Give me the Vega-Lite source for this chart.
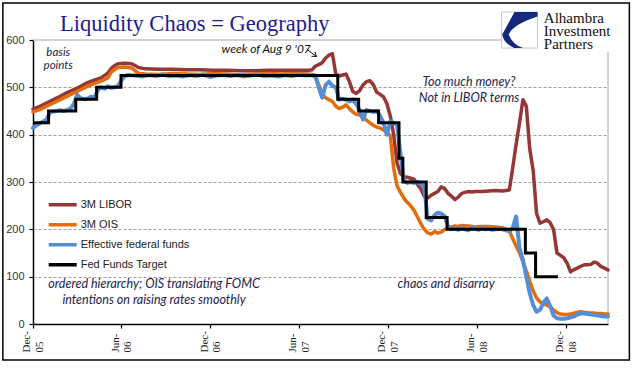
{
  "$schema": "https://vega.github.io/schema/vega-lite/v6.json",
  "width": 575,
  "height": 284,
  "autosize": "none",
  "padding": {"left": 33, "top": 40, "right": 33, "bottom": 51},
  "background": "white",
  "config": {"view": {"stroke": null}, "font": "Liberation Sans"},
  "title": {
    "text": "Liquidity Chaos = Geography",
    "anchor": "start",
    "frame": "group",
    "dx": 27,
    "dy": 51,
    "offset": 0,
    "baseline": "alphabetic",
    "font": "Liberation Serif",
    "fontSize": 22.5,
    "fontWeight": "normal",
    "color": "#1c1c8c"
  },
  "datasets": {
    "L": [
      {"date": "2005-12-30", "value": 454}, {"date": "2006-01-13", "value": 460}, {"date": "2006-01-27", "value": 467},
      {"date": "2006-02-10", "value": 474}, {"date": "2006-02-24", "value": 481}, {"date": "2006-03-10", "value": 489},
      {"date": "2006-03-24", "value": 495}, {"date": "2006-04-07", "value": 502}, {"date": "2006-04-21", "value": 510},
      {"date": "2006-05-05", "value": 515}, {"date": "2006-05-19", "value": 520}, {"date": "2006-06-02", "value": 530},
      {"date": "2006-06-09", "value": 540}, {"date": "2006-06-16", "value": 546}, {"date": "2006-06-23", "value": 550},
      {"date": "2006-07-07", "value": 551}, {"date": "2006-07-21", "value": 550}, {"date": "2006-07-28", "value": 546},
      {"date": "2006-08-04", "value": 542}, {"date": "2006-08-18", "value": 539}, {"date": "2006-09-15", "value": 538},
      {"date": "2006-10-13", "value": 538}, {"date": "2006-11-10", "value": 537}, {"date": "2006-12-08", "value": 537},
      {"date": "2007-01-05", "value": 536}, {"date": "2007-02-02", "value": 536}, {"date": "2007-03-02", "value": 535},
      {"date": "2007-03-30", "value": 535}, {"date": "2007-04-27", "value": 536}, {"date": "2007-05-25", "value": 536},
      {"date": "2007-06-22", "value": 536}, {"date": "2007-07-20", "value": 536}, {"date": "2007-07-27", "value": 537},
      {"date": "2007-08-03", "value": 545}, {"date": "2007-08-10", "value": 548}, {"date": "2007-08-17", "value": 552},
      {"date": "2007-08-24", "value": 562}, {"date": "2007-08-31", "value": 568}, {"date": "2007-09-07", "value": 571},
      {"date": "2007-09-14", "value": 528}, {"date": "2007-09-21", "value": 524}, {"date": "2007-09-28", "value": 526},
      {"date": "2007-10-05", "value": 528}, {"date": "2007-10-12", "value": 512}, {"date": "2007-10-19", "value": 491},
      {"date": "2007-10-26", "value": 487}, {"date": "2007-11-02", "value": 493}, {"date": "2007-11-09", "value": 505},
      {"date": "2007-11-16", "value": 512}, {"date": "2007-11-23", "value": 514}, {"date": "2007-11-30", "value": 506},
      {"date": "2007-12-07", "value": 490}, {"date": "2007-12-14", "value": 485}, {"date": "2007-12-21", "value": 480},
      {"date": "2007-12-28", "value": 466}, {"date": "2008-01-04", "value": 440}, {"date": "2008-01-11", "value": 400},
      {"date": "2008-01-18", "value": 340}, {"date": "2008-01-25", "value": 318}, {"date": "2008-02-01", "value": 311},
      {"date": "2008-02-08", "value": 310}, {"date": "2008-02-15", "value": 308}, {"date": "2008-02-22", "value": 306},
      {"date": "2008-02-29", "value": 295}, {"date": "2008-03-07", "value": 285}, {"date": "2008-03-14", "value": 270},
      {"date": "2008-03-21", "value": 266}, {"date": "2008-03-28", "value": 272}, {"date": "2008-04-04", "value": 276},
      {"date": "2008-04-11", "value": 280}, {"date": "2008-04-18", "value": 290}, {"date": "2008-04-25", "value": 286},
      {"date": "2008-05-02", "value": 276}, {"date": "2008-05-09", "value": 270}, {"date": "2008-05-16", "value": 263},
      {"date": "2008-05-23", "value": 268}, {"date": "2008-05-30", "value": 276}, {"date": "2008-06-06", "value": 278},
      {"date": "2008-06-13", "value": 280}, {"date": "2008-06-20", "value": 279}, {"date": "2008-06-27", "value": 280},
      {"date": "2008-07-11", "value": 280}, {"date": "2008-07-25", "value": 281}, {"date": "2008-08-08", "value": 282},
      {"date": "2008-08-22", "value": 281}, {"date": "2008-09-05", "value": 283}, {"date": "2008-09-12", "value": 330},
      {"date": "2008-09-19", "value": 380}, {"date": "2008-09-26", "value": 425}, {"date": "2008-10-03", "value": 474},
      {"date": "2008-10-10", "value": 460}, {"date": "2008-10-17", "value": 370}, {"date": "2008-10-24", "value": 325},
      {"date": "2008-10-31", "value": 234}, {"date": "2008-11-07", "value": 213}, {"date": "2008-11-14", "value": 216},
      {"date": "2008-11-21", "value": 220}, {"date": "2008-11-28", "value": 214}, {"date": "2008-12-05", "value": 200},
      {"date": "2008-12-12", "value": 150}, {"date": "2008-12-19", "value": 145}, {"date": "2008-12-26", "value": 140},
      {"date": "2009-01-02", "value": 128}, {"date": "2009-01-09", "value": 110}, {"date": "2009-01-16", "value": 115},
      {"date": "2009-01-23", "value": 118}, {"date": "2009-01-30", "value": 122}, {"date": "2009-02-06", "value": 125},
      {"date": "2009-02-13", "value": 125}, {"date": "2009-02-20", "value": 126}, {"date": "2009-02-27", "value": 131},
      {"date": "2009-03-06", "value": 128}, {"date": "2009-03-13", "value": 121}, {"date": "2009-03-20", "value": 118},
      {"date": "2009-03-27", "value": 114}
    ],
    "O": [
      {"date": "2005-12-30", "value": 448}, {"date": "2006-01-13", "value": 453}, {"date": "2006-01-27", "value": 460},
      {"date": "2006-02-10", "value": 467}, {"date": "2006-02-24", "value": 474}, {"date": "2006-03-10", "value": 481},
      {"date": "2006-03-24", "value": 488}, {"date": "2006-04-07", "value": 495}, {"date": "2006-04-21", "value": 502},
      {"date": "2006-05-05", "value": 508}, {"date": "2006-05-19", "value": 513}, {"date": "2006-06-02", "value": 520},
      {"date": "2006-06-09", "value": 532}, {"date": "2006-06-16", "value": 538}, {"date": "2006-06-23", "value": 542},
      {"date": "2006-07-07", "value": 543}, {"date": "2006-07-21", "value": 541}, {"date": "2006-07-28", "value": 535},
      {"date": "2006-08-04", "value": 530}, {"date": "2006-08-18", "value": 528}, {"date": "2006-09-15", "value": 527},
      {"date": "2006-10-13", "value": 529}, {"date": "2006-11-10", "value": 528}, {"date": "2006-12-08", "value": 527},
      {"date": "2007-01-05", "value": 529}, {"date": "2007-02-02", "value": 528}, {"date": "2007-03-02", "value": 526},
      {"date": "2007-03-30", "value": 528}, {"date": "2007-04-27", "value": 529}, {"date": "2007-05-25", "value": 528},
      {"date": "2007-06-22", "value": 529}, {"date": "2007-07-20", "value": 528}, {"date": "2007-07-27", "value": 527},
      {"date": "2007-08-03", "value": 520}, {"date": "2007-08-10", "value": 505}, {"date": "2007-08-17", "value": 487},
      {"date": "2007-08-24", "value": 478}, {"date": "2007-08-31", "value": 474}, {"date": "2007-09-07", "value": 470},
      {"date": "2007-09-14", "value": 460}, {"date": "2007-09-21", "value": 455}, {"date": "2007-09-28", "value": 458},
      {"date": "2007-10-05", "value": 463}, {"date": "2007-10-12", "value": 455}, {"date": "2007-10-19", "value": 448},
      {"date": "2007-10-26", "value": 443}, {"date": "2007-11-02", "value": 442}, {"date": "2007-11-09", "value": 436},
      {"date": "2007-11-16", "value": 431}, {"date": "2007-11-23", "value": 425}, {"date": "2007-11-30", "value": 420},
      {"date": "2007-12-07", "value": 416}, {"date": "2007-12-14", "value": 414}, {"date": "2007-12-21", "value": 410},
      {"date": "2007-12-28", "value": 405}, {"date": "2008-01-04", "value": 398}, {"date": "2008-01-11", "value": 330},
      {"date": "2008-01-18", "value": 292}, {"date": "2008-01-25", "value": 278}, {"date": "2008-02-01", "value": 266},
      {"date": "2008-02-08", "value": 257}, {"date": "2008-02-15", "value": 250}, {"date": "2008-02-22", "value": 240},
      {"date": "2008-02-29", "value": 226}, {"date": "2008-03-07", "value": 212}, {"date": "2008-03-14", "value": 200},
      {"date": "2008-03-21", "value": 193}, {"date": "2008-03-28", "value": 190}, {"date": "2008-04-04", "value": 195},
      {"date": "2008-04-11", "value": 192}, {"date": "2008-04-18", "value": 194}, {"date": "2008-04-25", "value": 200},
      {"date": "2008-05-02", "value": 203}, {"date": "2008-05-09", "value": 205}, {"date": "2008-05-16", "value": 207},
      {"date": "2008-05-23", "value": 206}, {"date": "2008-05-30", "value": 208}, {"date": "2008-06-13", "value": 207},
      {"date": "2008-06-27", "value": 205}, {"date": "2008-07-11", "value": 206}, {"date": "2008-07-25", "value": 206},
      {"date": "2008-08-08", "value": 205}, {"date": "2008-08-22", "value": 203}, {"date": "2008-09-05", "value": 198},
      {"date": "2008-09-12", "value": 180}, {"date": "2008-09-19", "value": 165}, {"date": "2008-09-26", "value": 150},
      {"date": "2008-10-03", "value": 132}, {"date": "2008-10-10", "value": 112}, {"date": "2008-10-17", "value": 90},
      {"date": "2008-10-24", "value": 70}, {"date": "2008-10-31", "value": 55}, {"date": "2008-11-07", "value": 47},
      {"date": "2008-11-14", "value": 43}, {"date": "2008-11-21", "value": 40}, {"date": "2008-11-28", "value": 36},
      {"date": "2008-12-05", "value": 30}, {"date": "2008-12-12", "value": 24}, {"date": "2008-12-19", "value": 21},
      {"date": "2008-12-26", "value": 20}, {"date": "2009-01-02", "value": 20}, {"date": "2009-01-09", "value": 21},
      {"date": "2009-01-16", "value": 23}, {"date": "2009-01-23", "value": 25}, {"date": "2009-01-30", "value": 26},
      {"date": "2009-02-06", "value": 25}, {"date": "2009-02-13", "value": 24}, {"date": "2009-02-20", "value": 23},
      {"date": "2009-02-27", "value": 23}, {"date": "2009-03-06", "value": 22}, {"date": "2009-03-13", "value": 22},
      {"date": "2009-03-20", "value": 21}, {"date": "2009-03-27", "value": 21}
    ],
    "E": [
      {"date": "2005-12-30", "value": 414}, {"date": "2006-01-06", "value": 420}, {"date": "2006-01-13", "value": 424},
      {"date": "2006-01-20", "value": 428}, {"date": "2006-01-27", "value": 432}, {"date": "2006-02-03", "value": 447},
      {"date": "2006-02-10", "value": 449}, {"date": "2006-02-17", "value": 450}, {"date": "2006-02-24", "value": 452},
      {"date": "2006-03-03", "value": 450}, {"date": "2006-03-10", "value": 452}, {"date": "2006-03-17", "value": 455},
      {"date": "2006-03-24", "value": 465}, {"date": "2006-03-31", "value": 484}, {"date": "2006-04-07", "value": 477},
      {"date": "2006-04-14", "value": 475}, {"date": "2006-04-21", "value": 476}, {"date": "2006-04-28", "value": 480},
      {"date": "2006-05-05", "value": 478}, {"date": "2006-05-12", "value": 493}, {"date": "2006-05-19", "value": 500},
      {"date": "2006-05-26", "value": 497}, {"date": "2006-06-02", "value": 502}, {"date": "2006-06-09", "value": 499},
      {"date": "2006-06-16", "value": 500}, {"date": "2006-06-23", "value": 503}, {"date": "2006-06-30", "value": 515},
      {"date": "2006-07-07", "value": 524}, {"date": "2006-07-14", "value": 526}, {"date": "2006-07-28", "value": 525},
      {"date": "2006-08-11", "value": 523}, {"date": "2006-08-25", "value": 526}, {"date": "2006-09-08", "value": 524},
      {"date": "2006-09-22", "value": 527}, {"date": "2006-10-06", "value": 524}, {"date": "2006-10-20", "value": 525},
      {"date": "2006-11-03", "value": 523}, {"date": "2006-11-17", "value": 526}, {"date": "2006-12-01", "value": 524},
      {"date": "2006-12-15", "value": 527}, {"date": "2006-12-29", "value": 522}, {"date": "2007-01-12", "value": 525},
      {"date": "2007-01-26", "value": 526}, {"date": "2007-02-09", "value": 524}, {"date": "2007-02-23", "value": 526},
      {"date": "2007-03-09", "value": 523}, {"date": "2007-03-23", "value": 525}, {"date": "2007-04-06", "value": 527},
      {"date": "2007-04-20", "value": 524}, {"date": "2007-05-04", "value": 525}, {"date": "2007-05-18", "value": 523},
      {"date": "2007-06-01", "value": 526}, {"date": "2007-06-15", "value": 524}, {"date": "2007-06-29", "value": 527},
      {"date": "2007-07-13", "value": 525}, {"date": "2007-07-27", "value": 526}, {"date": "2007-08-03", "value": 525},
      {"date": "2007-08-10", "value": 500}, {"date": "2007-08-17", "value": 478}, {"date": "2007-08-24", "value": 505},
      {"date": "2007-08-31", "value": 512}, {"date": "2007-09-07", "value": 503}, {"date": "2007-09-14", "value": 500},
      {"date": "2007-09-21", "value": 474}, {"date": "2007-09-28", "value": 476}, {"date": "2007-10-05", "value": 474},
      {"date": "2007-10-12", "value": 470}, {"date": "2007-10-19", "value": 474}, {"date": "2007-10-26", "value": 465},
      {"date": "2007-11-02", "value": 452}, {"date": "2007-11-09", "value": 432}, {"date": "2007-11-16", "value": 452},
      {"date": "2007-11-23", "value": 450}, {"date": "2007-11-30", "value": 448}, {"date": "2007-12-07", "value": 450},
      {"date": "2007-12-14", "value": 440}, {"date": "2007-12-21", "value": 425}, {"date": "2007-12-28", "value": 400},
      {"date": "2008-01-04", "value": 428}, {"date": "2008-01-11", "value": 425}, {"date": "2008-01-18", "value": 420},
      {"date": "2008-01-25", "value": 360}, {"date": "2008-02-01", "value": 303}, {"date": "2008-02-08", "value": 298},
      {"date": "2008-02-15", "value": 300}, {"date": "2008-02-22", "value": 298}, {"date": "2008-02-29", "value": 300},
      {"date": "2008-03-07", "value": 296}, {"date": "2008-03-14", "value": 290}, {"date": "2008-03-21", "value": 222},
      {"date": "2008-03-28", "value": 219}, {"date": "2008-04-04", "value": 230}, {"date": "2008-04-11", "value": 235},
      {"date": "2008-04-18", "value": 233}, {"date": "2008-04-25", "value": 228}, {"date": "2008-05-02", "value": 205},
      {"date": "2008-05-09", "value": 200}, {"date": "2008-05-16", "value": 202}, {"date": "2008-05-23", "value": 199},
      {"date": "2008-05-30", "value": 203}, {"date": "2008-06-06", "value": 200}, {"date": "2008-06-13", "value": 198},
      {"date": "2008-06-20", "value": 204}, {"date": "2008-06-27", "value": 201}, {"date": "2008-07-04", "value": 199},
      {"date": "2008-07-11", "value": 203}, {"date": "2008-07-18", "value": 200}, {"date": "2008-07-25", "value": 201},
      {"date": "2008-08-01", "value": 199}, {"date": "2008-08-08", "value": 200}, {"date": "2008-08-15", "value": 201},
      {"date": "2008-08-22", "value": 200}, {"date": "2008-08-29", "value": 198}, {"date": "2008-09-05", "value": 196},
      {"date": "2008-09-12", "value": 203}, {"date": "2008-09-19", "value": 227}, {"date": "2008-09-26", "value": 160},
      {"date": "2008-10-03", "value": 135}, {"date": "2008-10-10", "value": 100}, {"date": "2008-10-17", "value": 65},
      {"date": "2008-10-24", "value": 40}, {"date": "2008-10-31", "value": 26}, {"date": "2008-11-07", "value": 30},
      {"date": "2008-11-14", "value": 45}, {"date": "2008-11-21", "value": 54}, {"date": "2008-11-28", "value": 38},
      {"date": "2008-12-05", "value": 18}, {"date": "2008-12-12", "value": 12}, {"date": "2008-12-19", "value": 11},
      {"date": "2008-12-26", "value": 11}, {"date": "2009-01-02", "value": 12}, {"date": "2009-01-09", "value": 14},
      {"date": "2009-01-16", "value": 16}, {"date": "2009-01-23", "value": 20}, {"date": "2009-01-30", "value": 22},
      {"date": "2009-02-06", "value": 22}, {"date": "2009-02-13", "value": 21}, {"date": "2009-02-20", "value": 20},
      {"date": "2009-02-27", "value": 19}, {"date": "2009-03-06", "value": 18}, {"date": "2009-03-13", "value": 17},
      {"date": "2009-03-20", "value": 16}, {"date": "2009-03-27", "value": 16}
    ],
    "T": [
      {"date": "2005-12-30", "value": 425}, {"date": "2006-01-31", "value": 450}, {"date": "2006-03-28", "value": 475},
      {"date": "2006-05-10", "value": 500}, {"date": "2006-06-29", "value": 525}, {"date": "2007-09-18", "value": 475},
      {"date": "2007-10-31", "value": 450}, {"date": "2007-12-11", "value": 425}, {"date": "2008-01-22", "value": 350},
      {"date": "2008-01-30", "value": 300}, {"date": "2008-03-18", "value": 225}, {"date": "2008-04-30", "value": 200},
      {"date": "2008-10-08", "value": 150}, {"date": "2008-10-29", "value": 100}, {"date": "2008-12-14", "value": 100}
    ],
    "notesSmall": [
      {"date": "2006-02-20", "value": 572, "label": ["basis", "points"]}
    ],
    "notes": [
      {"date": "2008-06-14", "value": 511, "label": ["Too much money?", "Not in LIBOR terms"]},
      {"date": "2006-09-05", "value": 84.5, "label": ["ordered hierarchy;  OIS translating FOMC", "intentions on raising rates smoothly"]},
      {"date": "2008-04-28", "value": 84.5, "label": "chaos and disarray"}
    ],
    "noteWeek": [
      {"date": "2007-01-22", "value": 581, "label": "week of Aug 9 '07"}
    ],
    "arrow": [
      {"date": "2007-07-16", "value": 581, "date2": "2007-08-05", "value2": 565}
    ],
    "arrowHead": [
      {"date": "2007-08-05", "value": 565}
    ],
    "border": [
      {"date": "2005-12-30", "value": 600, "date2": "2008-08-20", "value2": 600},
      {"date": "2009-03-27", "value": 0, "date2": "2009-03-27", "value2": 575}
    ],
    "frame": [
      {"date": "2005-10-29", "value": 678, "date2": "2009-05-10", "value2": -76}
    ],
    "logoBox": [
      {"date": "2008-09-26", "value": 621}
    ],
    "logoText": [
      {"date": "2008-11-15", "value": 646, "label": ["Alhambra", "Investment", "Partners"]}
    ]
  },
  "encoding": {
    "x": {
      "field": "date",
      "type": "temporal",
      "scale": {"type": "utc", "domain": [1135900800000, 1238112000000]},
      "axis": {
        "title": null,
        "values": [1135900800000, 1151625600000, 1167436800000, 1183161600000, 1198972800000, 1214784000000, 1230595200000],
        "labelExpr": "[utcFormat(datum.value, '%b') + '-', utcFormat(datum.value, '%y')]",
        "labelAngle": 270,
        "labelAlign": "left",
        "labelBaseline": "middle",
        "labelFont": "Liberation Serif",
        "labelFontSize": 11,
        "labelLineHeight": 12.7,
        "labelColor": "#222222",
        "labelPadding": 24,
        "labelOffset": -6.3,
        "labelOverlap": false,
        "labelFlush": false,
        "tickSize": 4,
        "tickColor": "#000000",
        "tickWidth": 1.2,
        "domainColor": "#000000",
        "domainWidth": 1.5,
        "grid": false
      }
    },
    "y": {
      "field": "value",
      "type": "quantitative",
      "scale": {"domain": [0, 600], "nice": false},
      "axis": {
        "title": null,
        "values": [0, 100, 200, 300, 400, 500, 600],
        "labelFont": "Liberation Sans",
        "labelFontSize": 11,
        "labelColor": "#333333",
        "labelPadding": 5,
        "tickSize": 4,
        "tickColor": "#000000",
        "tickWidth": 1.2,
        "domainColor": "#000000",
        "domainWidth": 1.5,
        "grid": true,
        "gridColor": "#a0a0a0",
        "gridDash": [3, 2],
        "gridWidth": 1,
        "gridOpacity": {"condition": {"test": "datum.value === 0 || datum.value === 600", "value": 0}, "value": 1}
      }
    }
  },
  "layer": [
    {
      "data": {"name": "frame"},
      "mark": {"type": "rect", "fill": null, "stroke": "#000000", "strokeWidth": 1.5},
      "encoding": {"x2": {"field": "date2"}, "y2": {"field": "value2"}}
    },
    {
      "data": {"name": "border"},
      "mark": {"type": "rule", "stroke": "#a6a6a6", "strokeWidth": 1},
      "encoding": {"x2": {"field": "date2"}, "y2": {"field": "value2"}}
    },
    {
      "data": {"name": "L"},
      "mark": {"type": "line", "strokeWidth": 3.5, "strokeJoin": "round", "strokeCap": "round"},
      "encoding": {
        "color": {
          "datum": "3M LIBOR",
          "type": "nominal",
          "scale": {
            "domain": ["3M LIBOR", "3M OIS", "Effective federal funds", "Fed Funds Target"],
            "range": ["#953735", "#e46c0a", "#558ed5", "#000000"]
          },
          "legend": {
            "title": null,
            "orient": "none",
            "legendX": 13.7,
            "legendY": 155,
            "symbolType": "stroke",
            "symbolSize": 784,
            "symbolStrokeWidth": 3.5,
            "labelFont": "Liberation Sans",
            "labelFontSize": 11,
            "labelColor": "#222222",
            "labelOffset": 2,
            "clipHeight": 19.5,
            "rowPadding": 0
          }
        }
      }
    },
    {
      "data": {"name": "O"},
      "mark": {"type": "line", "strokeWidth": 3.5, "strokeJoin": "round", "strokeCap": "round"},
      "encoding": {"color": {"datum": "3M OIS", "type": "nominal"}}
    },
    {
      "data": {"name": "E"},
      "mark": {"type": "line", "strokeWidth": 4, "strokeJoin": "round", "strokeCap": "round"},
      "encoding": {"color": {"datum": "Effective federal funds", "type": "nominal"}}
    },
    {
      "data": {"name": "T"},
      "mark": {"type": "line", "interpolate": "step-after", "strokeWidth": 3},
      "encoding": {"color": {"datum": "Fed Funds Target", "type": "nominal"}}
    },
    {
      "data": {"name": "notesSmall"},
      "mark": {"type": "text", "font": "Lato", "fontStyle": "italic", "fontSize": 11.5, "lineHeight": 12.8, "color": "#1c2350", "align": "center", "baseline": "middle"},
      "encoding": {"text": {"field": "label"}}
    },
    {
      "data": {"name": "notes"},
      "mark": {"type": "text", "font": "Lato", "fontStyle": "italic", "fontSize": 12.5, "lineHeight": 15.5, "color": "#1c2350", "align": "center", "baseline": "middle"},
      "encoding": {"text": {"field": "label"}}
    },
    {
      "data": {"name": "noteWeek"},
      "mark": {"type": "text", "font": "Lato", "fontStyle": "italic", "fontSize": 12, "color": "#111111", "align": "left", "baseline": "middle"},
      "encoding": {"text": {"field": "label"}}
    },
    {
      "data": {"name": "arrow"},
      "mark": {"type": "rule", "stroke": "#111111", "strokeWidth": 1},
      "encoding": {"x2": {"field": "date2"}, "y2": {"field": "value2"}}
    },
    {
      "data": {"name": "arrowHead"},
      "mark": {"type": "point", "shape": "M-0.7,-1L0,0L0.7,-1", "filled": false, "stroke": "#111111", "strokeWidth": 1, "size": 64, "angle": 308, "opacity": 1},
      "encoding": {}
    },
    {
      "data": {"name": "logoBox"},
      "mark": {"type": "point", "shape": "square", "filled": true, "fill": "#ffffff", "stroke": "#c8c8c8", "strokeWidth": 1, "size": 1296, "opacity": 1},
      "encoding": {}
    },
    {
      "data": {"name": "logoBox"},
      "mark": {"type": "point", "shape": "M-0.28,-1L1,-1L1,-0.76Q-0.4,-0.3,-0.6,0.24Q-0.4,0.8,0.2,1L-0.3,1Q-0.9,0.7,-0.96,0.24Z", "filled": true, "fill": "#13287a", "strokeWidth": 0, "size": 1296, "opacity": 1},
      "encoding": {}
    },
    {
      "data": {"name": "logoText"},
      "mark": {"type": "text", "font": "Liberation Serif", "fontSize": 15, "lineHeight": 12.8, "color": "#111111", "align": "left", "baseline": "middle"},
      "encoding": {"text": {"field": "label"}}
    }
  ]
}
